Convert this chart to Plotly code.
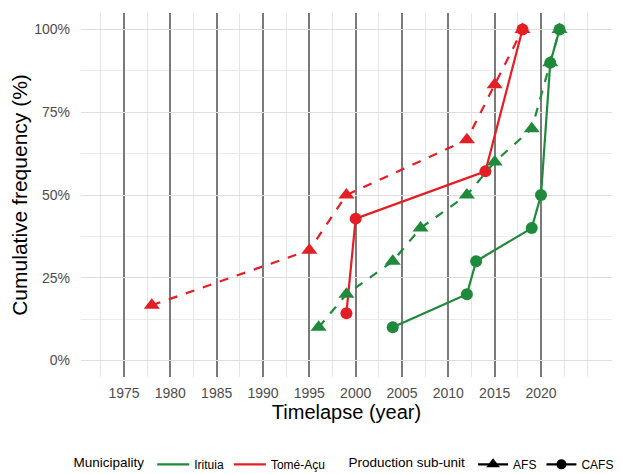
import plotly.graph_objects as go

# ---- data ----
tome_afs_year = [1978, 1995, 1999, 2012, 2015, 2018]
tome_afs_pct = [16.67, 33.33, 50.0, 66.67, 83.33, 100.0]

tome_cafs_year = [1999, 2000, 2014, 2018]
tome_cafs_pct = [14.29, 42.86, 57.14, 100.0]

iri_afs_year = [1996, 1999, 2004, 2007, 2012, 2015, 2019, 2021, 2022]
iri_afs_pct = [10, 20, 30, 40, 50, 60, 70, 90, 100]

iri_cafs_year = [2004, 2012, 2013, 2019, 2020, 2021, 2022]
iri_cafs_pct = [10, 20, 30, 40, 50, 90, 100]

x_ticks = [1975, 1980, 1985, 1990, 1995, 2000, 2005, 2010, 2015, 2020]
x_minor = [1972.5, 1977.5, 1982.5, 1987.5, 1992.5, 1997.5, 2002.5, 2007.5,
           2012.5, 2017.5, 2022.5, 2025]
y_ticks = [0, 25, 50, 75, 100]
y_tick_text = ["0%", "25%", "50%", "75%", "100%"]
y_minor = [12.5, 37.5, 62.5, 87.5]

GREEN = "#1F8A3B"
RED = "#E41E25"
FONT = "Liberation Sans, Arial, sans-serif"

fig = go.Figure()

def add(xs, ys, color, dash, symbol, size):
    fig.add_trace(go.Scatter(
        x=xs, y=ys, mode="lines+markers",
        line=dict(color=color, width=2.2, dash=dash),
        marker=dict(symbol=symbol, size=size, color=color),
        showlegend=False, hoverinfo="skip"))

add(iri_cafs_year, iri_cafs_pct, GREEN, "solid", "circle", 12)
add(tome_cafs_year, tome_cafs_pct, RED, "solid", "circle", 12)
add(iri_afs_year, iri_afs_pct, GREEN, "dash", "triangle-up", 14)
add(tome_afs_year, tome_afs_pct, RED, "dash", "triangle-up", 14)

# legend entries
fig.add_trace(go.Scatter(x=[None], y=[None], mode="lines", name="Irituia",
                         line=dict(color=GREEN, width=2.2), legend="legend"))
fig.add_trace(go.Scatter(x=[None], y=[None], mode="lines", name="Tomé-Açu",
                         line=dict(color=RED, width=2.2), legend="legend"))
fig.add_trace(go.Scatter(x=[None], y=[None], mode="lines+markers", name="AFS",
                         line=dict(color="black", width=2.2),
                         marker=dict(symbol="triangle-up", size=12, color="black"),
                         legend="legend2"))
fig.add_trace(go.Scatter(x=[None], y=[None], mode="lines+markers", name="CAFS",
                         line=dict(color="black", width=2.2),
                         marker=dict(symbol="circle", size=10, color="black"),
                         legend="legend2"))

fig.update_layout(
    width=623, height=474,
    margin=dict(l=73, r=19, t=5, b=105, autoexpand=False),
    paper_bgcolor="white", plot_bgcolor="white",
    font=dict(family=FONT, color="black"),
    xaxis=dict(
        range=[1970.36, 2027.66], tickmode="array", tickvals=x_ticks,
        showgrid=True, gridcolor="#7a7a7a", gridwidth=1.7,
        zeroline=False, showline=False, ticks="", automargin=False,
        tickfont=dict(size=14, color="#4D4D4D"), ticklabelstandoff=6,
        title=dict(text="Timelapse (year)", font=dict(size=20, color="black"),
                   standoff=1),
        minor=dict(tickmode="array", tickvals=x_minor, showgrid=True,
                   gridcolor="#e6e6e6", gridwidth=1),
    ),
    yaxis=dict(
        range=[-5, 105], tickmode="array", tickvals=y_ticks, ticktext=y_tick_text,
        showgrid=True, gridcolor="#dedede", gridwidth=1.3,
        zeroline=False, showline=False, ticks="", automargin=False,
        tickfont=dict(size=14, color="#4D4D4D"), ticklabelstandoff=10,
        title=dict(text="Cumulative frequency (%)", font=dict(size=21, color="black"),
                   standoff=5),
        minor=dict(tickmode="array", tickvals=y_minor, showgrid=True,
                   gridcolor="#ececec", gridwidth=1),
    ),
    legend=dict(
        orientation="h", x=-0.018, xanchor="left", y=-0.24, yanchor="middle",
        title=dict(text="Municipality", side="left", font=dict(size=13.5)),
        font=dict(size=12), bgcolor="rgba(0,0,0,0)", itemwidth=32,
    ),
    legend2=dict(
        orientation="h", x=0.5, xanchor="left", y=-0.24, yanchor="middle",
        title=dict(text="Production sub-unit", side="left", font=dict(size=13.5)),
        font=dict(size=12), bgcolor="rgba(0,0,0,0)", itemwidth=30,
    ),
)

fig.write_html("out.html")
